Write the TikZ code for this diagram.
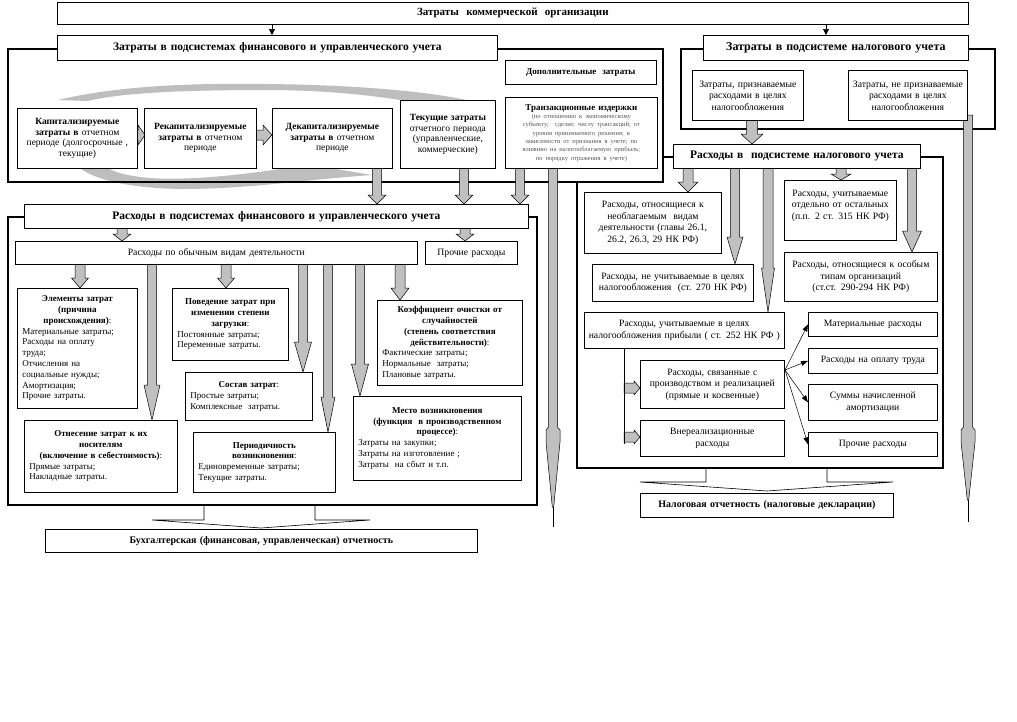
\documentclass[tikz,border=0pt]{standalone}
\usepackage{fontspec}
\setmainfont{Liberation Serif}
\usetikzlibrary{arrows.meta}
\definecolor{agray}{RGB}{192,192,192}
\definecolor{bandgray}{RGB}{190,190,190}
\newcommand\fs[2]{\fontsize{#1}{#2}\selectfont}
\tikzset{
  box/.style={draw, line width=0.7pt, fill=white, inner sep=2pt},
  frame/.style={draw, line width=2.6pt},
  garrow/.style={fill=agray, draw=black, line width=0.5pt},
  thinline/.style={draw, line width=0.6pt},
  tarrow/.style={line width=0.6pt, -{Triangle[length=6pt,width=6pt]}},
  farrow/.style={line width=0.5pt, -{Triangle[length=7pt,width=5pt]}},
  body/.style={font=\fs{9}{10.8}},
  topbody/.style={font=\fs{9.5}{10.5}},
  tbody/.style={font=\fs{9.7}{11.5}},
  head/.style={font=\fs{11.5}{13}\bfseries},
}
\newcommand\bx[7][]{%
  \pgfmathsetmacro\bxw{#5-#3}\pgfmathsetmacro\bxh{#6-#4}\pgfmathsetmacro\bxt{#5-#3-6}%
  \node[box, align=center, text width=\bxt pt, minimum width=\bxw pt, minimum height=\bxh pt, anchor=north west, body, #1] (#2) at (#3,#4) {#7};}
\newcommand\lbx[7][]{%
  \pgfmathsetmacro\bxw{#5-#3}\pgfmathsetmacro\bxh{#6-#4}\pgfmathsetmacro\bxt{#5-#3-10}%
  \node[box, align=left, text width=\bxt pt, minimum width=\bxw pt, minimum height=\bxh pt, anchor=north west, body, #1] (#2) at (#3,#4) {#7};}
\newcommand\dar[6]{\filldraw[garrow] ({#1-#4},#2) -- ({#1-#4},{#3-#6}) -- ({#1-#5},{#3-#6}) -- (#1,#3) -- ({#1+#5},{#3-#6}) -- ({#1+#4},{#3-#6}) -- ({#1+#4},#2) -- cycle;}
\newcommand\rar[6]{\filldraw[garrow] (#2,{#1-#4}) -- ({#3-#6},{#1-#4}) -- ({#3-#6},{#1-#5}) -- (#3,#1) -- ({#3-#6},{#1+#5}) -- ({#3-#6},{#1+#4}) -- (#2,{#1+#4}) -- cycle;}
\newcommand\tar[5]{\filldraw[garrow] ({#1-4.5},#2) -- ({#1-4.5},#3) -- ({#1-7},{#3+3}) -- ({#1-7},{#3+15}) -- ({#1-0.7},#4) -- ({#1+0.7},#4) -- ({#1+7},{#3+15}) -- ({#1+7},{#3+3}) -- ({#1+4.5},#3) -- ({#1+4.5},#2) -- cycle; \draw[line width=0.6pt] (#1,#4) -- (#1,#5);}
\begin{document}
\begin{tikzpicture}[x=1pt,y=-1pt]
\useasboundingbox (0,0) rectangle (1017,721);
\fill[white] (0,0) rectangle (1017,721);

% curved gray bands
\fill[bandgray] (58,100) .. controls (120,85) and (200,83) .. (267,84) .. controls (360,85) and (450,92) .. (497,108) .. controls (470,102) and (430,100) .. (400,100) .. controls (350,92) and (300,90) .. (267,90) .. controls (180,90) and (120,93) .. (88,101) -- cycle;
\fill[bandgray] (80,168) .. controls (95,180) and (130,188) .. (180,189) .. controls (250,189) and (300,180) .. (372,175) .. controls (340,170) and (320,165) .. (300,166) .. controls (250,174) and (190,181) .. (150,178) .. controls (125,176) and (112,171) .. (108,168) -- cycle;

% frames
\draw[frame] (8,49) rectangle (663,182);
\draw[frame] (681,49) rectangle (995,129);
\draw[frame] (577,182) -- (577,468) -- (943,468) -- (943,157) -- (920,157);
\draw[frame] (663,157) -- (673,157);
\draw[frame] (8,217) rectangle (537,505);

% gray block arrows
\rar{135}{132}{145}{5}{10}{7}
\rar{135}{250}{272}{5}{10}{9}
\dar{377}{160}{204}{4.5}{9}{9}
\dar{464}{160}{204}{4.5}{9}{9}
\dar{520}{160}{204}{4.5}{9}{9}
\tar{553}{160}{427}{507}{527}
\dar{122}{220}{241}{5}{9}{7}
\dar{465}{220}{241}{5}{9}{7}
\dar{80}{258}{288}{5}{8.5}{10}
\dar{152}{258}{420}{4.5}{8}{35}
\dar{226}{258}{288}{5}{8.5}{10}
\dar{303}{258}{372}{4.5}{8.5}{30}
\dar{328}{258}{432}{4.5}{7}{35}
\dar{360}{258}{396}{4.5}{8.5}{32}
\dar{400}{258}{300}{5}{9}{12}
\dar{752}{115}{144}{5.5}{11}{10}
\tar{968}{115}{427}{500}{522}
\dar{688}{160}{192}{5}{10}{10}
\dar{735}{160}{264}{4.5}{8}{27}
\dar{768}{160}{312}{5}{6.5}{44}
\dar{841}{160}{180}{5}{10}{6}
\dar{912}{160}{252}{4.5}{9.5}{21}
\rar{388}{624}{640}{5}{7}{6}
\rar{437}{624}{640}{5}{7}{6}

% headers and boxes
\bx[font=\fs{11}{13}\bfseries]{T0}{57}{2}{968}{24}{Затраты\ \ коммерческой\ \ организации}
\bx[head]{L0}{57}{35}{497}{60}{Затраты в подсистемах финансового и управленческого учета}
\bx[head,font=\fs{12}{14}\bfseries]{R0}{703}{35}{968}{60}{Затраты в подсистеме налогового учета}
\bx[topbody]{B1}{17}{108}{137}{168}{\textbf{Капитализируемые}\\\textbf{затраты в} отчетном\\периоде (долгосрочные ,\\текущие)}
\bx[topbody]{B2}{144}{108}{256}{168}{\textbf{Рекапитализируемые}\\\textbf{затраты в} отчетном\\периоде}
\bx[topbody]{B3}{272}{108}{392}{168}{\textbf{Декапитализируемые}\\\textbf{затраты в} отчетном\\периоде}
\bx[topbody]{B4}{400}{100}{495}{168}{\textbf{Текущие затраты}\\отчетного периода\\(управленческие,\\коммерческие)}
\bx[font=\fs{9}{11}\bfseries]{B5}{505}{60}{656}{84}{Дополнительные\ \ затраты}
\bx[font=\fs{9}{11}]{B6}{505}{97}{657}{168}{{\bfseries Транзакционные издержки\par}{\fs{6.5}{8.3}\color{black!65}(по отношению к экономическому\\субъекту;\ \ сделке; числу трансакций; от\\уровня принимаемого решения; в\\зависимости от признания в учете; по\\влиянию на налогооблагаемую прибыль;\\по порядку отражения в учете)\par}}
\bx[tbody]{RA}{692}{70}{803}{120}{Затраты, признаваемые\\расходами в целях\\налогообложения}
\bx[tbody]{RB}{848}{70}{967}{120}{Затраты, не признаваемые\\расходами в целях\\налогообложения}
\bx[head]{TX}{673}{144}{920}{168}{Расходы в\ \ подсистеме налогового учета}
\bx[head]{H2}{24}{204}{528}{228}{Расходы в подсистемах финансового и управленческого учета}
\bx[tbody]{OB}{15}{241}{417}{264}{Расходы по обычным видам деятельности}
\bx[tbody]{PR}{425}{241}{517}{264}{Прочие расходы}
\lbx{EL}{17}{288}{137}{408}{{\centering\bfseries Элементы затрат\\(причина\\происхождения)\mdseries:\par}Материальные затраты;\\Расходы на оплату\\труда;\\Отчисления на\\социальные нужды;\\Амортизация;\\Прочие затраты.}
\lbx{PV}{172}{288}{288}{360}{{\centering\bfseries Поведение затрат при\\изменении степени\\загрузки\mdseries:\par}Постоянные затраты;\\Переменные затраты.}
\lbx{SS}{185}{372}{312}{420}{{\centering\bfseries Состав затрат\mdseries:\par}Простые затраты;\\Комплексные\ \ затраты.}
\lbx{KO}{377}{300}{522}{385}{{\centering\bfseries Коэффициент очистки от\\случайностей\\(степень соответствия\\действительности)\mdseries:\par}Фактические затраты;\\Нормальные\ \ затраты;\\Плановые затраты.}
\lbx{OT}{24}{420}{177}{492}{{\centering\bfseries Отнесение затрат к их\\носителям\\(включение в себестоимость)\mdseries:\par}Прямые затраты;\\Накладные затраты.}
\lbx{PE}{193}{432}{335}{492}{{\centering\bfseries Периодичность\\возникновения\mdseries:\par}Единовременные затраты;\\Текущие затраты.}
\lbx{MV}{353}{396}{521}{480}{{\centering\bfseries Место возникновения\\(функция\ \ в производственном\\процессе)\mdseries:\par}Затраты на закупки;\\Затраты на изготовление ;\\Затраты\ \ на сбыт и т.п.}
\bx[font=\fs{10}{12}\bfseries]{BU}{45}{529}{477}{552}{Бухгалтерская (финансовая, управленческая) отчетность}
\bx[tbody]{N1}{584}{192}{721}{253}{Расходы, относящиеся к\\необлагаемым\ \ видам\\деятельности (главы 26.1,\\26.2, 26.3, 29 НК РФ)}
\bx[tbody]{N2}{784}{180}{896}{240}{Расходы, учитываемые\\отдельно от остальных\\(п.п. 2 ст. 315 НК РФ)\\~}
\bx[tbody]{N3}{592}{264}{753}{301}{Расходы, не учитываемые в целях\\налогообложения\ \ (ст. 270 НК РФ)}
\bx[tbody]{N4}{784}{252}{937}{301}{Расходы, относящиеся к особым\\типам организаций\\(ст.ст. 290-294 НК РФ)}
\bx[tbody]{N5}{584}{312}{784}{348}{Расходы, учитываемые в целях\\налогообложения прибыли ( ст. 252 НК РФ )}
\bx[tbody]{N6}{640}{360}{784}{408}{Расходы, связанные с\\производством и реализацией\\(прямые и косвенные)}
\bx[tbody]{N7}{640}{420}{784}{456}{Внереализационные\\расходы}
\bx[tbody]{M1}{808}{312}{937}{336}{Материальные расходы}
\bx[tbody]{M2}{808}{348}{937}{373}{Расходы на оплату труда}
\bx[tbody]{M3}{808}{384}{937}{420}{Суммы начисленной\\амортизации}
\bx[tbody]{M4}{808}{432}{937}{456}{Прочие расходы}
\bx[font=\fs{10}{12}\bfseries]{NO}{640}{493}{893}{517}{Налоговая отчетность (налоговые декларации)}

% thin black connectors
\coordinate (ta) at (272,0);
\coordinate (tb) at (826,0);
\draw[tarrow] (T0.south -| ta) -- (L0.north -| ta);
\draw[tarrow] (T0.south -| tb) -- (R0.north -| tb);
\coordinate (vx) at (624,444);
\draw[thinline] (N5.south -| vx) -- (vx);
\coordinate (fo) at (785,370);
\draw[farrow] (fo) -- (M1.west);
\draw[farrow] (fo) -- (M2.west);
\draw[farrow] (fo) -- (M3.west);
\draw[farrow] (fo) -- (M4.west);

% brackets under the frames
\draw[thinline] (204,505) -- (204,520) -- (152,520) -- (261,528) -- (370,520) -- (315,520) -- (315,505);
\draw[thinline] (706,468) -- (706,482) -- (640,482) -- (767,491) -- (893,482) -- (827,482) -- (827,468);
\end{tikzpicture}
\end{document}
